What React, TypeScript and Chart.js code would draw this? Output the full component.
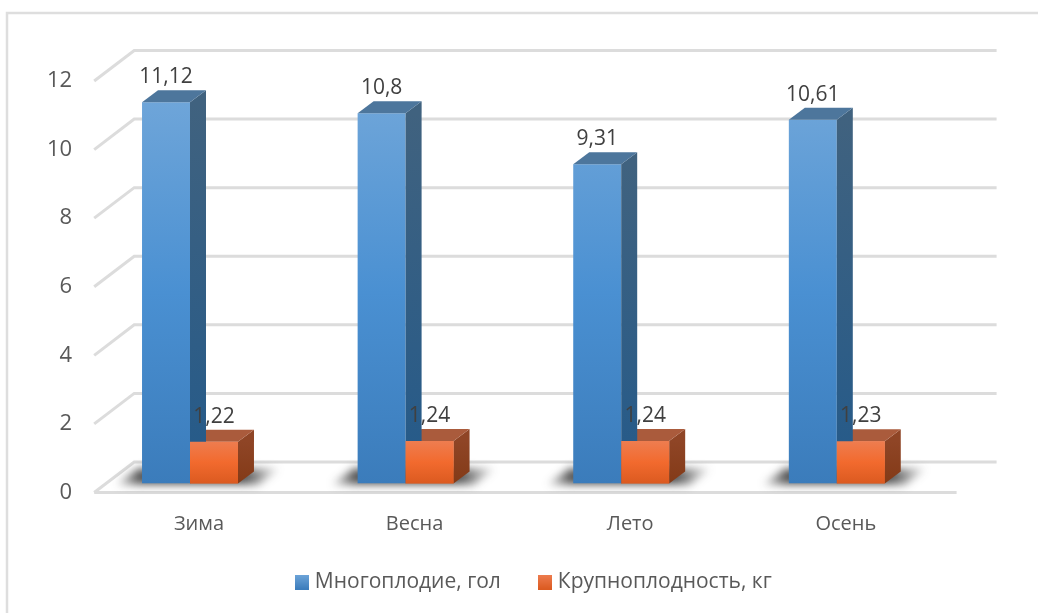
import React, { useEffect, useRef } from "react";
import { Chart, registerables } from "chart.js";

Chart.register(...registerables);

const seasons = ["Зима", "Весна", "Лето", "Осень"];
const litterSize = [11.12, 10.8, 9.31, 10.61];
const bodyWeight = [1.22, 1.24, 1.24, 1.23];
const litterLabel = "Многоплодие, гол";
const weightLabel = "Крупноплодность, кг";

const FONT = '"Open Sans", "Noto Sans", sans-serif';
const DEPTH_X = 16;
const DEPTH_Y = 12;

const palettes = [
  { front: ["#6ea5d9", "#4a90d2", "#3b7cbb"], top: "#4d769c", side: ["#40627f", "#245a8a"] },
  { front: ["#ee7d50", "#f26a2e", "#db5a20"], top: "#aa5b3c", side: ["#8f4526", "#833a17"] },
];

const decimal = (v: number) => String(v).replace(".", ",");

// Small gradient square used as the legend marker of a series.
const swatch = (stops: string[]) => {
  const c = document.createElement("canvas");
  c.width = 14;
  c.height = 15;
  const g = c.getContext("2d")!;
  const fill = g.createLinearGradient(0, 0, 0, 15);
  fill.addColorStop(0, stops[0]);
  fill.addColorStop(1, stops[2]);
  g.fillStyle = fill;
  g.fillRect(0, 0, 14, 15);
  return c;
};

// Walls, floor and the raised bar faces are worked out from the scales and bar elements.
const depthPlugin = {
  id: "depth",
  beforeDatasetsDraw(chart: any) {
    const { ctx, scales } = chart;
    const y = scales.y;
    const x = scales.x;
    const x0 = x.left + 12;
    const x1 = x.right + 12;
    ctx.save();
    ctx.strokeStyle = "#dcdcdc";
    ctx.lineWidth = 3;
    y.ticks.forEach((t: any) => {
      const py = y.getPixelForValue(t.value);
      ctx.beginPath();
      ctx.moveTo(x0, py + 9);
      ctx.lineTo(x0 + 40, py - 21.5);
      ctx.lineTo(x1 + 40, py - 21.5);
      ctx.stroke();
    });
    const base = y.getPixelForValue(0);
    ctx.beginPath();
    ctx.moveTo(x0, base + 9);
    ctx.lineTo(x1, base + 9);
    ctx.stroke();

    // soft floor shadow behind each bar pair, fading towards its far ends
    const blue = chart.getDatasetMeta(0).data;
    const orange = chart.getDatasetMeta(1).data;
    blue.forEach((b: any, i: number) => {
      const l = b.x - b.width / 2;
      const r = orange[i].x + orange[i].width / 2;
      const fade = ctx.createLinearGradient(l - 26, 0, r + 42, 0);
      const span = r + 42 - (l - 26);
      fade.addColorStop(0, "rgba(40,40,40,0.15)");
      fade.addColorStop(24 / span, "rgba(40,40,40,0.8)");
      fade.addColorStop((r - l + 32) / span, "rgba(40,40,40,0.8)");
      fade.addColorStop(1, "rgba(40,40,40,0.05)");
      ctx.save();
      ctx.filter = "blur(4px)";
      ctx.fillStyle = fade;
      ctx.beginPath();
      ctx.moveTo(l - 26, base + 1);
      ctx.lineTo(l - 4, base - 15);
      ctx.lineTo(r + 42, base - 15);
      ctx.lineTo(r + 20, base + 1);
      ctx.closePath();
      ctx.fill();
      ctx.restore();
    });
    ctx.restore();
  },
  afterDatasetsDraw(chart: any) {
    const { ctx, scales } = chart;
    const base = scales.y.getPixelForValue(0);
    [1, 0].forEach((di) => {
      const p = palettes[di];
      chart.getDatasetMeta(di).data.forEach((b: any) => {
        const l = b.x - b.width / 2;
        const r = b.x + b.width / 2;
        const t = b.y;
        const side = ctx.createLinearGradient(0, t, 0, base);
        side.addColorStop(0, p.side[0]);
        side.addColorStop(1, p.side[1]);
        ctx.fillStyle = side;
        ctx.beginPath();
        ctx.moveTo(r, t);
        ctx.lineTo(r + DEPTH_X, t - DEPTH_Y);
        ctx.lineTo(r + DEPTH_X, base - DEPTH_Y);
        ctx.lineTo(r, base);
        ctx.closePath();
        ctx.fill();
        ctx.fillStyle = p.top;
        ctx.beginPath();
        ctx.moveTo(l, t);
        ctx.lineTo(l + DEPTH_X, t - DEPTH_Y);
        ctx.lineTo(r + DEPTH_X, t - DEPTH_Y);
        ctx.lineTo(r, t);
        ctx.closePath();
        ctx.fill();
      });
    });
    // orange front faces sit over the blue side faces
    chart.getDatasetMeta(1).data.forEach((b: any) => b.draw(ctx));

    ctx.save();
    ctx.font = `21px ${FONT}`;
    ctx.fillStyle = "#404040";
    ctx.textAlign = "center";
    ctx.textBaseline = "middle";
    chart.data.datasets.forEach((ds: any, di: number) => {
      chart.getDatasetMeta(di).data.forEach((b: any, i: number) => {
        ctx.fillText(decimal(ds.data[i]), b.x, b.y - 25);
      });
    });
    ctx.restore();
  },
};

// Thin frame round the drawing.
const framePlugin = {
  id: "frame",
  beforeDraw(chart: any) {
    const { ctx } = chart;
    ctx.save();
    ctx.fillStyle = "#ffffff";
    ctx.fillRect(0, 0, chart.width, chart.height);
    ctx.strokeStyle = "#dedede";
    ctx.lineWidth = 2.5;
    ctx.beginPath();
    ctx.moveTo(7, 613);
    ctx.lineTo(7, 13);
    ctx.lineTo(1038, 13);
    ctx.stroke();
    ctx.restore();
  },
};

// Moves the legend right of the plot's centre and gives the category labels room to draw.
const layoutTweaks = {
  id: "layoutTweaks",
  afterLayout(chart: any) {
    chart.legend.left += 63.75;
    chart.legend.right += 63.75;
    chart.scales.x.bottom += 30;
  },
};

export default function App() {
  const ref = useRef<HTMLCanvasElement>(null);
  useEffect(() => {
    document.body.style.margin = "0";
    const gradient = (ctx: any, chart: any, stops: string[]) => {
      const a = chart.chartArea;
      const g = ctx.createLinearGradient(0, a ? a.top + 30 : 0, 0, a ? a.bottom : 480);
      g.addColorStop(0, stops[0]);
      g.addColorStop(0.5, stops[1]);
      g.addColorStop(1, stops[2]);
      return g;
    };
    const legendItems = [
      { text: litterLabel, pointStyle: swatch(palettes[0].front), fontColor: "#595959", datasetIndex: 0 },
      { text: weightLabel, pointStyle: swatch(palettes[1].front), fontColor: "#595959", datasetIndex: 1 },
    ];
    const chart = new Chart(ref.current!, {
      type: "bar",
      data: {
        labels: seasons,
        datasets: [
          {
            label: litterLabel,
            data: litterSize,
            backgroundColor: (c: any) => gradient(c.chart.ctx, c.chart, palettes[0].front),
            barPercentage: 1,
            categoryPercentage: 0.445,
          },
          {
            label: weightLabel,
            data: bodyWeight,
            backgroundColor: (c: any) => {
              const b = c.chart.scales.y;
              const ctx = c.chart.ctx;
              const g = ctx.createLinearGradient(0, b ? b.getPixelForValue(1.24) : 440, 0, b ? b.getPixelForValue(0) : 484);
              g.addColorStop(0, palettes[1].front[0]);
              g.addColorStop(0.5, palettes[1].front[1]);
              g.addColorStop(1, palettes[1].front[2]);
              return g;
            },
            barPercentage: 1,
            categoryPercentage: 0.445,
          },
        ],
      },
      options: {
        responsive: false,
        animation: false,
        layout: { padding: { left: 0, right: 93.4, top: 72, bottom: 10.5 } },
        plugins: {
          legend: {
            position: "bottom",
            labels: {
              font: { family: FONT, size: 21 },
              color: "#595959",
              usePointStyle: true,
              pointStyleWidth: 4,
              padding: 42.5,
              generateLabels: () => legendItems,
            },
          },
          tooltip: { enabled: false },
        },
        scales: {
          x: {
            grid: { display: false },
            border: { display: false },
            ticks: { font: { family: FONT, size: 20 }, color: "#595959", labelOffset: 9, padding: 21 },
            afterFit: (s: any) => { s.height = 45.5; },
          },
          y: {
            min: 0,
            max: 12,
            grid: { display: false },
            border: { display: false },
            afterFit: (s: any) => { s.width = 82.2; },
            ticks: {
              stepSize: 2,
              font: { family: FONT, size: 22 },
              color: "#595959",
              labelOffset: 9,
              padding: 2,
            },
          },
        },
      },
      plugins: [framePlugin, depthPlugin, layoutTweaks],
    } as any);
    return () => chart.destroy();
  }, []);
  return <canvas ref={ref} width={1038} height={613} style={{ display: "block" }} />;
}
